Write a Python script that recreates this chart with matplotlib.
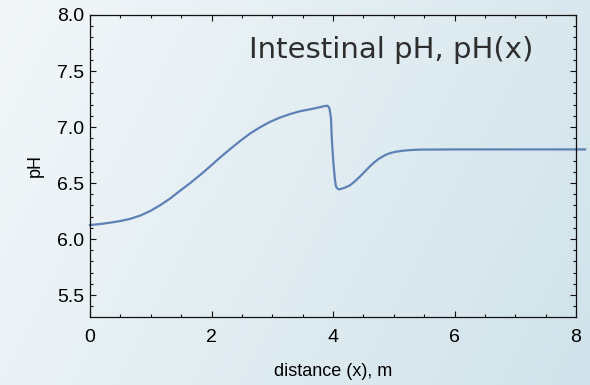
import numpy as np
import matplotlib
matplotlib.use("Agg")
import matplotlib.pyplot as plt
from matplotlib.ticker import MultipleLocator, FormatStrFormatter

# pH a lo largo del intestino
distancia = [0.0, 0.17, 0.33, 0.50, 0.66, 0.83, 0.99, 1.15, 1.32, 1.48,
             1.65, 1.82, 1.98, 2.14, 2.30, 2.47, 2.63, 2.80, 2.96, 3.12,
             3.29, 3.45, 3.62, 3.76, 3.87, 3.91, 3.94, 3.967, 3.98, 4.005,
             4.03, 4.045, 4.06, 4.09, 4.115, 4.20, 4.28, 4.36, 4.44, 4.52,
             4.61, 4.68, 4.75, 4.82, 4.88, 4.95, 5.02, 5.16, 5.30, 5.43,
             6.0, 8.0, 8.15]
ph = [6.125, 6.134, 6.146, 6.161, 6.18, 6.21, 6.25, 6.30, 6.362, 6.43,
      6.50, 6.575, 6.65, 6.727, 6.80, 6.875, 6.94, 6.998, 7.045, 7.083,
      7.115, 7.14, 7.158, 7.174, 7.188, 7.19, 7.17, 7.08, 6.90, 6.69,
      6.54, 6.48, 6.458, 6.445, 6.444, 6.46, 6.48, 6.515, 6.556, 6.60,
      6.65, 6.685, 6.715, 6.738, 6.755, 6.768, 6.778, 6.789, 6.795, 6.798,
      6.80, 6.80, 6.80]

titulo = "Intestinal pH, pH(x)"
color_linea = "#5e81b5"

plt.rcParams["font.family"] = ["Liberation Sans", "DejaVu Sans"]

fig = plt.figure(figsize=(5.9, 3.85), dpi=100)

# fondo degradado
bg = fig.add_axes([0, 0, 1, 1], zorder=-10)
gx, gy = np.meshgrid(np.linspace(0, 1, 300), np.linspace(0, 1, 200))
t = np.clip(0.75 * gx + 0.25 * gy, 0, 1)
c0 = np.array([243, 247, 249]) / 255.0
c1 = np.array([208, 227, 234]) / 255.0
img = c0[None, None, :] * (1 - t[..., None]) + c1[None, None, :] * t[..., None]
bg.imshow(img, aspect="auto", extent=[0, 1, 0, 1], origin="upper")
bg.axis("off")

ax = fig.add_axes([90 / 590, 68 / 385, 486 / 590, 302 / 385])
ax.patch.set_alpha(0)
ax.plot(distancia, ph, color=color_linea, lw=1.6, clip_on=False,
        solid_joinstyle="round")

ax.set_xlim(0, 8)
ax.set_ylim(5.304, 8.0)
ax.xaxis.set_major_locator(MultipleLocator(2))
ax.xaxis.set_minor_locator(MultipleLocator(0.5))
ax.yaxis.set_major_locator(MultipleLocator(0.5))
ax.yaxis.set_minor_locator(MultipleLocator(0.1))
ax.yaxis.set_major_formatter(FormatStrFormatter("%.1f"))

ax.tick_params(which="both", direction="in", top=True, right=True, width=0.8,
               labelsize=14, color="#111111")
ax.tick_params(which="major", length=4)
ax.tick_params(which="minor", length=2.2)
ax.tick_params(axis="x", pad=9)
ax.tick_params(axis="y", pad=4)
for s in ax.spines.values():
    s.set_linewidth(0.9)
    s.set_color("#111111")

ax.set_xlabel("distance (x), m", fontsize=13, labelpad=12)
ax.set_ylabel("pH", fontsize=13, labelpad=10)

ax.text(0.9115, 0.885, titulo, transform=ax.transAxes, ha="right", va="center",
        fontsize=21, color="#2e2e2e", family=["DejaVu Sans"])

fig.savefig("out.png", dpi=100)
